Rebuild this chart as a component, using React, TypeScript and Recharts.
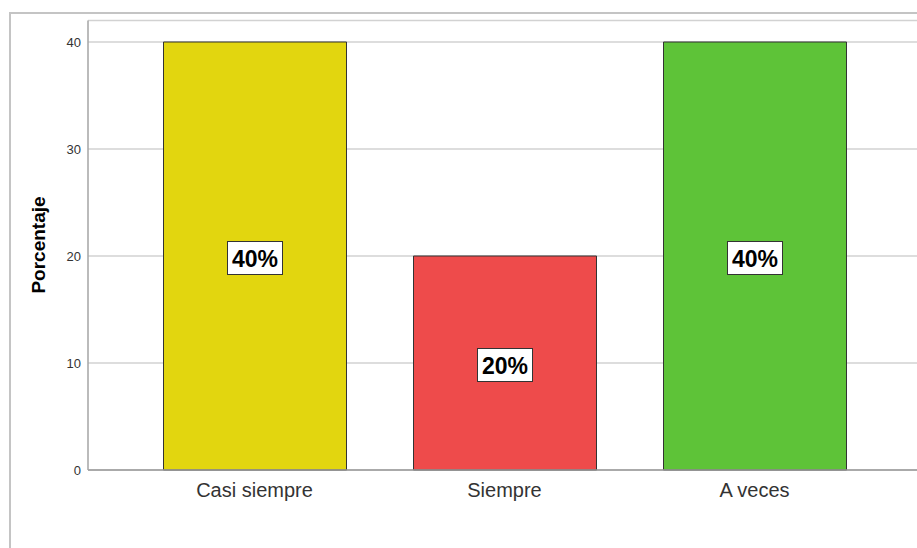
import { Bar, BarChart, CartesianGrid, Cell, LabelList, XAxis, YAxis } from "recharts";

const categories = ["Casi siempre", "Siempre", "A veces"];
const percentages = [40, 20, 40];
const barColors = ["#e2d60f", "#ee4b4b", "#5ec338"];
const yTicks = [0, 10, 20, 30, 40];

const data = categories.map((name, i) => ({ name, value: percentages[i] }));

function PercentLabel(props: any) {
  const { x, y, width, height, value } = props;
  const cx = x + width / 2;
  const cy = y + height / 2 + 2;
  return (
    <g>
      <rect x={cx - 27.5} y={cy - 16.5} width={55} height={33} fill="#fff" stroke="#333" strokeWidth={1} />
      <text x={cx} y={cy + 1} textAnchor="middle" dominantBaseline="central" fontSize={23} fontWeight="bold" fill="#000">
        {`${value}%`}
      </text>
    </g>
  );
}

export default function App() {
  return (
    <div style={{ position: "fixed", left: 0, top: 0, width: 917, height: 548, background: "#fff", fontFamily: "'Liberation Sans', Arial, sans-serif" }}>
      <div style={{ position: "absolute", left: 9, top: 12, right: 0, bottom: 0, borderLeft: "2px solid #c4c4c4", borderTop: "2px solid #c4c4c4" }} />
      <div style={{ position: "absolute", left: 0, top: 0 }}>
        <BarChart width={917} height={548} data={data} margin={{ top: 20.6, right: 0, bottom: 48, left: 0 }}>
          <CartesianGrid stroke="#d2d2d2" vertical={false} strokeWidth={1.5} />
          <XAxis
            dataKey="name"
            height={30}
            padding={{ left: 41.5, right: 37.5 }}
            tickLine={false}
            tickSize={8}
            tickMargin={5}
            stroke="#999"
            strokeWidth={1.5}
            tick={{ fill: "#333", fontSize: 20 }}
          />
          <YAxis
            width={88}
            domain={[0, 42]}
            ticks={yTicks}
            tickLine={false}
            tickSize={5}
            tickMargin={2}
            stroke="#a5a5a5"
            strokeWidth={1.5}
            tick={{ fill: "#333", fontSize: 13 }}
            label={() => (
              <text x={38} y={245} transform="rotate(-90 38 245)" textAnchor="middle" dominantBaseline="central" fontSize={19} fontWeight="bold" fill="#000">
                Porcentaje
              </text>
            )}
          />
          <Bar dataKey="value" barSize={183} stroke="#333" strokeWidth={1} isAnimationActive={false}>
            {data.map((d, i) => (
              <Cell key={d.name} fill={barColors[i]} />
            ))}
            <LabelList dataKey="value" content={PercentLabel} />
          </Bar>
        </BarChart>
      </div>
    </div>
  );
}
